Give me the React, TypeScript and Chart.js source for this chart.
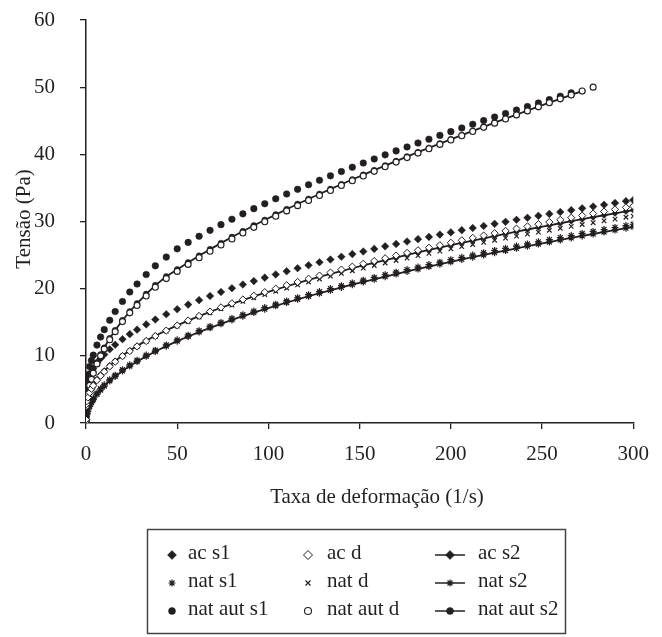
import React, { useEffect, useRef } from "react";
import { Chart, registerables } from "chart.js";
import { drawPoint } from "chart.js/helpers";

Chart.register(...registerables);

// Shear rate (1/s), shared x values
const shearRate = [
  0, 0.2, 0.5, 1, 2, 3, 4, 6, 8, 10, 13, 16, 20, 24, 28, 33, 38, 44,
  50, 56, 62, 68, 74, 80, 86, 92, 98, 104, 110, 116, 122, 128, 134, 140, 146, 152, 158, 164,
  170, 176, 182, 188, 194, 200, 206, 212, 218, 224, 230, 236, 242, 248, 254, 260, 266, 272,
  278, 284, 290, 296, 300,
];

// Shear stress (Pa)
const acS1 = [
  0.5, 5.32, 5.79, 6.32, 7.07, 7.64, 8.12, 8.92, 9.6, 10.19, 10.97, 11.66, 12.48, 13.23, 13.9, 14.68, 15.4, 16.2,
  16.94, 17.63, 18.29, 18.91, 19.5, 20.07, 20.61, 21.13, 21.64, 22.12, 22.59, 23.05, 23.49, 23.93, 24.34, 24.75,
  25.15, 25.54, 25.92, 26.3, 26.66, 27.02, 27.37, 27.71, 28.05, 28.38, 28.71, 29.03, 29.34, 29.65, 29.95, 30.25,
  30.55, 30.84, 31.13, 31.41, 31.69, 31.96, 32.23, 32.5, 32.76, 33.03, 33.2,
];
const acD = [
  0.5, 2.8, 3.26, 3.79, 4.53, 5.09, 5.57, 6.37, 7.04, 7.63, 8.42, 9.12, 9.95, 10.71, 11.4, 12.2, 12.94, 13.76,
  14.53, 15.26, 15.94, 16.6, 17.22, 17.82, 18.39, 18.95, 19.48, 20.0, 20.51, 21.0, 21.48, 21.95, 22.4, 22.84,
  23.28, 23.71, 24.12, 24.53, 24.93, 25.33, 25.72, 26.1, 26.47, 26.84, 27.2, 27.56, 27.91, 28.26, 28.6, 28.94,
  29.27, 29.6, 29.92, 30.25, 30.57, 30.88, 31.19, 31.49, 31.8, 32.1, 32.29,
];
const acS2 = [
  0.5, 2.99, 3.45, 3.97, 4.7, 5.26, 5.73, 6.52, 7.19, 7.77, 8.55, 9.23, 10.05, 10.79, 11.48, 12.26, 12.98, 13.79,
  14.54, 15.25, 15.92, 16.55, 17.16, 17.74, 18.3, 18.84, 19.36, 19.87, 20.36, 20.83, 21.3, 21.75, 22.19, 22.62,
  23.04, 23.45, 23.85, 24.25, 24.63, 25.02, 25.39, 25.76, 26.12, 26.47, 26.82, 27.16, 27.5, 27.84, 28.16, 28.49,
  28.81, 29.12, 29.43, 29.74, 30.05, 30.34, 30.64, 30.93, 31.22, 31.51, 31.7,
];
const natS1 = [
  0.3, 0.98, 1.43, 1.94, 2.66, 3.21, 3.67, 4.45, 5.1, 5.68, 6.44, 7.12, 7.93, 8.66, 9.34, 10.11, 10.83, 11.63,
  12.38, 13.08, 13.75, 14.38, 14.98, 15.56, 16.12, 16.66, 17.18, 17.69, 18.17, 18.65, 19.11, 19.57, 20.01, 20.44,
  20.86, 21.27, 21.68, 22.07, 22.46, 22.84, 23.22, 23.59, 23.95, 24.31, 24.66, 25.0, 25.35, 25.68, 26.01, 26.34,
  26.66, 26.98, 27.3, 27.61, 27.91, 28.22, 28.52, 28.81, 29.11, 29.4, 29.59,
];
const natD = [
  0.5, 2.81, 3.28, 3.81, 4.56, 5.13, 5.61, 6.41, 7.08, 7.67, 8.45, 9.14, 9.96, 10.71, 11.38, 12.16, 12.88, 13.68,
  14.42, 15.12, 15.78, 16.4, 16.99, 17.56, 18.11, 18.63, 19.13, 19.62, 20.1, 20.56, 21.0, 21.44, 21.86, 22.27,
  22.67, 23.07, 23.45, 23.82, 24.19, 24.55, 24.91, 25.25, 25.59, 25.93, 26.26, 26.58, 26.9, 27.21, 27.52, 27.82,
  28.12, 28.41, 28.7, 28.99, 29.27, 29.55, 29.82, 30.09, 30.36, 30.63, 30.8,
];
const natS2 = [
  0.2, 0.78, 1.24, 1.74, 2.46, 3.02, 3.48, 4.26, 4.91, 5.49, 6.26, 6.93, 7.75, 8.48, 9.15, 9.92, 10.64, 11.44,
  12.18, 12.88, 13.54, 14.17, 14.77, 15.35, 15.9, 16.44, 16.95, 17.45, 17.94, 18.41, 18.87, 19.32, 19.75, 20.18,
  20.6, 21.0, 21.4, 21.79, 22.18, 22.56, 22.93, 23.29, 23.65, 24.0, 24.35, 24.69, 25.02, 25.36, 25.68, 26.0,
  26.32, 26.64, 26.94, 27.25, 27.55, 27.85, 28.14, 28.44, 28.72, 29.01, 29.2,
];
const natAutS1 = [
  0.5, 5.0, 6.2, 7.2, 8.4, 9.3, 10.1, 11.6, 12.8, 13.9, 15.3, 16.6, 18.1, 19.5, 20.7, 22.1, 23.4, 24.7,
  25.93, 26.89, 27.8, 28.68, 29.53, 30.34, 31.14, 31.91, 32.65, 33.38, 34.1, 34.79, 35.47, 36.14, 36.8, 37.44,
  38.08, 38.7, 39.31, 39.92, 40.51, 41.1, 41.68, 42.25, 42.82, 43.38, 43.93, 44.47, 45.02, 45.55, 46.08, 46.6,
  47.12, 47.64, 48.14, 48.65, 49.15, null, null, null, null, null, null,
];
const natAutD = [
  0.3, 2.5, 3.4, 4.3, 5.6, 6.5, 7.4, 8.8, 10.0, 11.0, 12.4, 13.6, 15.1, 16.4, 17.5, 18.9, 20.2, 21.5,
  22.57, 23.61, 24.61, 25.57, 26.5, 27.4, 28.28, 29.13, 29.96, 30.78, 31.58, 32.36, 33.12, 33.88, 34.62, 35.35,
  36.06, 36.77, 37.47, 38.16, 38.84, 39.51, 40.18, 40.83, 41.48, 42.13, 42.77, 43.4, 44.02, 44.64, 45.26, 45.87,
  46.47, 47.07, 47.67, 48.26, 48.84, 49.42, 50.0, null, null, null, null,
];
const natAutS2 = [
  0.4, 2.7, 3.6, 4.5, 5.8, 6.7, 7.6, 9.0, 10.2, 11.2, 12.6, 13.8, 15.3, 16.6, 17.8, 19.2, 20.5, 21.8,
  22.85, 23.9, 24.9, 25.85, 26.78, 27.68, 28.55, 29.4, 30.22, 31.03, 31.82, 32.6, 33.35, 34.1, 34.83, 35.55,
  36.25, 36.95, 37.64, 38.32, 38.99, 39.66, 40.32, 40.96, 41.6, 42.24, 42.87, 43.49, 44.1, 44.71, 45.32, 45.92,
  46.51, 47.1, 47.69, 48.27, 48.85, 49.42, null, null, null, null, null,
];

const seriesLabels = ["ac s1", "ac d", "ac s2", "nat s1", "nat d", "nat s2", "nat aut s1", "nat aut d", "nat aut s2"];
const xTickValues = [0, 50, 100, 150, 200, 250, 300];
const yTickValues = [0, 10, 20, 30, 40, 50, 60];
const xTitle = "Taxa de deformação (1/s)";
const yTitle = "Tensão (Pa)";

const INK = "#231f20";
const FONT = "'Liberation Serif', 'Times New Roman', serif";

type Style = { pointStyle: string; radius: number; fill: string; line: boolean; bw: number; order: number };
const styles: Style[] = [
  { pointStyle: "rectRot", radius: 3.8, fill: INK, line: false, bw: 0.5, order: 1 },
  { pointStyle: "rectRot", radius: 3.6, fill: "#ffffff", line: false, bw: 1, order: 0 },
  { pointStyle: "rectRot", radius: 3.2, fill: INK, line: true, bw: 0.5, order: 2 },
  { pointStyle: "star", radius: 3.5, fill: INK, line: false, bw: 1.2, order: 1 },
  { pointStyle: "crossRot", radius: 3.2, fill: INK, line: false, bw: 1.2, order: 0 },
  { pointStyle: "star", radius: 3.5, fill: INK, line: true, bw: 1.2, order: 2 },
  { pointStyle: "circle", radius: 3.3, fill: INK, line: false, bw: 0.5, order: 1 },
  { pointStyle: "circle", radius: 3.0, fill: "#ffffff", line: false, bw: 1.1, order: 0 },
  { pointStyle: "circle", radius: 3.0, fill: INK, line: true, bw: 0.5, order: 2 },
];

const legendPlugin = {
  id: "boxLegend",
  afterDraw(chart: any) {
    const ctx = chart.ctx as CanvasRenderingContext2D;
    const area = chart.chartArea;
    ctx.save();
    // axis titles
    ctx.fillStyle = INK;
    ctx.font = `21px ${FONT}`;
    ctx.textAlign = "center";
    ctx.textBaseline = "middle";
    ctx.fillText(xTitle, area.left + 291, 497);
    ctx.save();
    ctx.translate(24, 219);
    ctx.rotate(-Math.PI / 2);
    ctx.fillText(yTitle, 0, 0);
    ctx.restore();

    // legend box
    ctx.strokeStyle = "#444";
    ctx.lineWidth = 1.5;
    ctx.strokeRect(147.5, 529.5, 418, 104);
    const markerX = [172, 308, 450];
    const textX = [188, 327, 478];
    const rowY = [555, 583, 611];
    ctx.textAlign = "left";
    seriesLabels.forEach((label, i) => {
      const col = i % 3;
      const row = Math.floor(i / 3);
      const st = styles[i];
      const y = rowY[row];
      if (st.line) {
        ctx.strokeStyle = INK;
        ctx.lineWidth = 1.5;
        ctx.beginPath();
        ctx.moveTo(markerX[col] - 15, y);
        ctx.lineTo(markerX[col] + 15, y);
        ctx.stroke();
      }
      ctx.fillStyle = st.fill;
      ctx.strokeStyle = INK;
      ctx.lineWidth = st.bw;
      const r = st.pointStyle === "rectRot" ? 4.5 : 3.5;
      drawPoint(ctx, { pointStyle: st.pointStyle as any, rotation: 0, radius: r, borderWidth: st.bw }, markerX[col], y);
      ctx.fillStyle = INK;
      ctx.fillText(label, textX[col], y - 2);
    });
    ctx.restore();
  },
};

export default function App() {
  const ref = useRef<HTMLCanvasElement | null>(null);
  useEffect(() => {
    if (!ref.current) return;
    const allSeries = [acS1, acD, acS2, natS1, natD, natS2, natAutS1, natAutD, natAutS2];
    const datasets = allSeries.map((vals, i) => {
      const st = styles[i];
      const pts = shearRate
        .map((x, k) => ({ x, y: vals[k] }))
        .filter((p) => p.y !== null && p.y !== undefined);
      return {
        label: seriesLabels[i],
        data: pts,
        showLine: st.line,
        borderColor: INK,
        borderWidth: 1.8,
        backgroundColor: st.fill,
        pointStyle: st.pointStyle,
        pointRadius: st.radius,
        pointBackgroundColor: st.fill,
        pointBorderColor: INK,
        pointBorderWidth: st.bw,
        pointHoverRadius: st.radius,
        tension: 0,
        order: st.order,
      };
    });
    const tickFont = { family: FONT, size: 21 };
    const chart = new Chart(ref.current, {
      type: "scatter",
      data: { datasets: datasets as any },
      options: {
        animation: false,
        responsive: false,
        layout: { padding: { left: 0, right: 18, top: 20, bottom: 0 } },
        plugins: { legend: { display: false }, tooltip: { enabled: false } },
        scales: {
          x: {
            type: "linear",
            min: 0,
            max: 300,
            afterBuildTicks: (s: any) => {
              s.ticks = xTickValues.map((v) => ({ value: v }));
            },
            afterFit: (s: any) => {
              s.height = 214;
            },
            ticks: { font: tickFont, color: INK, padding: 13, maxRotation: 0 },
            grid: { display: true, drawOnChartArea: false, drawTicks: true, tickLength: 6, color: INK, lineWidth: 1.3 },
            border: { display: true, color: INK, width: 1.5 },
            title: { display: false },
          },
          y: {
            type: "linear",
            min: 0,
            max: 60,
            afterBuildTicks: (s: any) => {
              s.ticks = yTickValues.map((v) => ({ value: v }));
            },
            afterFit: (s: any) => {
              s.width = 86;
              s.paddingTop = 0;
              s.paddingBottom = 0;
            },
            ticks: { font: tickFont, color: INK, padding: 25 },
            grid: { display: true, drawOnChartArea: false, drawTicks: true, tickLength: 6, color: INK, lineWidth: 1.3 },
            border: { display: true, color: INK, width: 1.5 },
            title: { display: false },
          },
        },
      },
      plugins: [legendPlugin],
    });
    return () => chart.destroy();
  }, []);
  return (
    <div style={{ position: "fixed", left: 0, top: 0, width: 662, height: 637, background: "#fff" }}>
      <canvas ref={ref} width={662} height={637} style={{ display: "block" }} />
    </div>
  );
}
